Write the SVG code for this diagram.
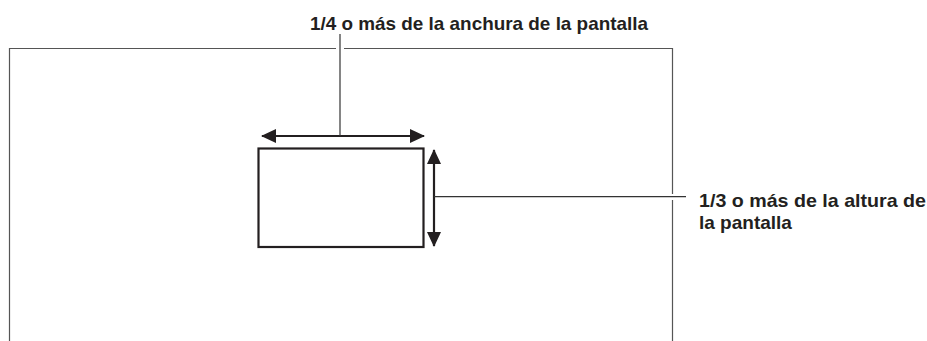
<svg xmlns="http://www.w3.org/2000/svg" width="927" height="341" viewBox="0 0 927 341">
<style>
.frame{fill:none;stroke:#555;stroke-width:1.2}
.lead{fill:none;stroke:#333;stroke-width:1.2}
.shape{fill:#fff;stroke:#231f20;stroke-width:2.2}
.arr{fill:none;stroke:#231f20;stroke-width:2.2}
.lbl{font-family:"Liberation Sans",Arial,sans-serif;font-weight:bold;font-size:19px;fill:#231f20}
</style>
<defs>
<marker id="ah" viewBox="0 0 15 14" refX="14" refY="7" markerWidth="15" markerHeight="14" markerUnits="userSpaceOnUse" orient="auto-start-reverse">
<path d="M0,0 L15,7 L0,14 Z" fill="#231f20"/>
</marker>
</defs>
<g id="screen">
<path class="frame" d="M9.5,341 V48.5 H336 M344,48.5 H672.5 V194 M672.5,200 V341"/>
</g>
<g id="subject">
<rect class="shape" x="258.5" y="148.5" width="165" height="98.5"/>
</g>
<g id="connectors">
<path class="arr" d="M262,136 H424" marker-start="url(#ah)" marker-end="url(#ah)"/>
<path class="arr" d="M434,150 V246" marker-start="url(#ah)" marker-end="url(#ah)"/>
<path class="lead" d="M340,34 V136"/>
<path class="lead" d="M434,196.7 H686"/>
</g>
<g id="label-width">
<text class="lbl" x="310" y="30" textLength="338" lengthAdjust="spacingAndGlyphs">1/4 o más de la anchura de la pantalla</text>
</g>
<g id="label-height">
<text class="lbl" x="699" y="206.5" textLength="227" lengthAdjust="spacingAndGlyphs">1/3 o más de la altura de</text>
<text class="lbl" x="699" y="228.5">la pantalla</text>
</g>
</svg>
